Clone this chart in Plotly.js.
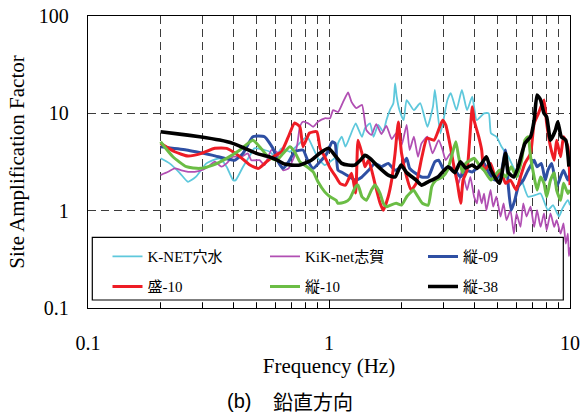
<!DOCTYPE html>
<html>
<head>
<meta charset="utf-8">
<script src="https://cdn.plot.ly/plotly-3.0.1.min.js"></script>
<style>
html,body{margin:0;padding:0;background:#fff;}
#chart{width:582px;height:416px;}
</style>
</head>
<body>
<div id="chart"></div>
<script>
// ---- data ----
const seriesNames = ['K-NET穴水', 'KiK-net志賀', '縦-09', '盛-10', '縦-10', '縦-38'];

const freqKnet = [0.2,0.218,0.24,0.26,0.28,0.31,0.352,0.376,0.4,0.41,0.44,0.47,0.49,0.54,0.568,0.6,0.635,0.688,0.74,0.81,0.86,0.9,0.96,1.01,1.07,1.09,1.13,1.17,1.22,1.29,1.32,1.37,1.41,1.48,1.53,1.6,1.68,1.73,1.79,1.85,1.88,1.91,1.96,2.04,2.1,2.25,2.39,2.56,2.7,2.75,2.9,3.1,3.2,3.38,3.56,3.74,3.93,4.1,4.4,4.6,4.7,4.95,5.2,5.55,5.9,6.3,6.7,7.2,7.55,8.1,8.5,9.0,9.3,9.8,10];
const ampKnet  = [3.45,3.06,2.45,1.98,2.22,3.06,3.45,2.83,2.06,2.06,2.83,3.7,4.37,4.2,4.03,3.58,4.37,4.03,4.7,5.75,4.37,3.45,2.94,3.18,3.58,4.91,5.75,4.54,5.75,7.89,7.02,5.75,7.02,7.89,5.75,7.6,6.47,8.5,10.8,12.7,20.3,14.8,10.8,8.5,13.7,10.8,12.7,7.28,11.7,17.4,6.23,13.7,16.1,10.8,17.4,10.8,14.8,8.5,10,10,6.23,5.75,4.54,3.58,2.6,2.06,1.39,1.45,1.5,1.01,1.14,0.87,1.05,1.28,1.14];

const freqKik = [0.2,0.215,0.229,0.244,0.26,0.277,0.296,0.315,0.336,0.358,0.376,0.4,0.433,0.46,0.476,0.515,0.54,0.577,0.606,0.625,0.645,0.68,0.72,0.74,0.757,0.78,0.82,0.86,0.9,0.96,1.01,1.04,1.09,1.14,1.2,1.24,1.3,1.37,1.43,1.5,1.57,1.65,1.73,1.82,1.91,2.0,2.1,2.16,2.25,2.34,2.42,2.56,2.69,2.85,2.96,3.05,3.19,3.33,3.45,3.56,3.74,3.86,4.0,4.11,4.18,4.3,4.4,4.5,4.68,4.8,4.95,5.15,5.3,5.45,5.66,5.85,6.0,6.23,6.4,6.6,6.86,7.1,7.3,7.55,7.8,8.0,8.3,8.6,8.8,9.14,9.4,9.6,9.8,9.9,10];
const ampKik  = [2.32,2.51,2.72,2.6,2.51,2.51,2.6,2.83,3.18,2.83,3.06,3.58,3.58,3.88,3.3,3.3,2.94,4.2,4.03,3.18,2.6,2.72,3.7,4.91,7.28,8.2,7.89,7.28,8.2,8.9,8.9,10.8,10.3,12.8,16.4,13.1,11.3,12.2,6.7,6.0,7.76,6.12,7.44,5.44,6.35,4.7,7.6,4.2,5.75,3.58,4.91,5.75,3.88,5.3,4.2,3.3,3.88,2.6,1.91,2.6,1.63,2.22,1.39,1.19,1.63,1.19,1.5,1.01,1.63,1.1,1.39,0.87,1.19,0.8,1.01,0.58,0.94,0.68,1.19,0.87,1.1,0.68,1.01,0.68,0.94,0.63,0.94,0.68,0.8,0.58,0.74,0.46,0.58,0.34,0.42];

const freqT09 = [0.2,0.256,0.33,0.406,0.44,0.483,0.54,0.585,0.615,0.645,0.68,0.72,0.78,0.82,0.86,0.918,0.98,1.03,1.06,1.09,1.14,1.22,1.29,1.37,1.46,1.55,1.65,1.76,1.88,2.0,2.1,2.16,2.27,2.42,2.58,2.75,2.85,3.0,3.12,3.33,3.51,3.69,3.93,4.18,4.4,4.6,4.9,5.2,5.4,5.55,5.7,5.9,6.1,6.4,6.7,7.1,7.3,7.6,7.9,8.1,8.4,8.8,9.14,9.4,9.8,10];
const ampT09  = [4.54,4.2,3.7,3.3,3.88,5.75,5.75,4.37,3.18,2.72,3.18,4.03,4.2,3.18,2.72,3.18,3.88,5.1,4.91,2.6,2.45,2.22,2.06,2.22,2.6,3.06,2.83,3.06,2.6,2.83,3.45,2.72,2.45,2.22,2.22,3.18,3.3,2.6,2.83,2.6,2.22,2.6,2.5,2.83,3.06,2.45,2.06,2.6,4.2,1.77,1.01,1.28,1.77,2.06,2.6,3.3,2.83,3.06,2.06,2.6,3.06,1.77,2.22,2.6,2.06,2.45];

const freqM10 = [0.2,0.229,0.26,0.296,0.336,0.376,0.42,0.47,0.51,0.55,0.6,0.635,0.675,0.72,0.757,0.78,0.83,0.89,0.918,0.96,1.01,1.07,1.11,1.17,1.24,1.29,1.32,1.37,1.41,1.46,1.55,1.63,1.68,1.76,1.82,1.88,1.94,2.0,2.1,2.19,2.3,2.43,2.55,2.73,2.96,3.05,3.19,3.3,3.41,3.52,3.6,3.74,3.93,4.0,4.18,4.3,4.4,4.68,4.9,5.15,5.4,5.66,5.98,6.23,6.5,6.86,7.1,7.4,7.8,8.0,8.3,8.6,8.8,9.14,9.4,9.8,10];
const ampM10  = [4.91,4.03,3.64,3.88,4.37,4.37,3.7,2.94,2.72,3.18,3.7,4.03,5.58,7.95,7.28,4.54,6.28,6.47,4.4,3.58,2.74,2.21,1.91,1.83,2.42,1.52,5.3,3.88,2.83,3.3,1.91,1.19,1.01,1.39,2.06,3.88,8.14,3.88,2.22,1.63,1.91,3.58,5.54,5.3,8.5,7.6,4.54,2.83,1.91,1.19,2.06,2.6,11.7,8.5,5.75,4.2,2.6,3.06,2.22,2.6,1.91,2.06,1.63,2.22,3.06,3.88,7.89,10,13.7,7.89,4.54,3.3,5.3,3.58,5.75,4.54,1.83];

const freqT10 = [0.2,0.225,0.256,0.291,0.33,0.376,0.427,0.483,0.515,0.56,0.606,0.645,0.688,0.72,0.757,0.81,0.86,0.9,0.96,1.01,1.07,1.09,1.17,1.22,1.29,1.32,1.37,1.43,1.5,1.55,1.63,1.68,1.73,1.8,1.9,2.0,2.1,2.16,2.24,2.34,2.44,2.58,2.67,2.78,2.96,3.1,3.25,3.36,3.45,3.58,3.69,3.86,4.0,4.25,4.4,4.7,5.1,5.4,5.7,6.0,6.3,6.5,6.7,6.86,7.1,7.3,7.55,7.8,8.0,8.3,8.6,8.8,9.14,9.4,9.8,10];
const ampT10  = [5.1,3.58,2.83,2.72,2.94,3.45,4.2,5.3,4.54,3.58,3.3,3.88,4.54,4.03,3.18,2.83,2.5,1.98,1.56,1.39,1.28,1.19,1.23,1.33,1.77,1.83,1.39,1.28,1.63,1.83,1.5,1.19,1.1,1.14,1.19,1.14,1.39,1.5,1.63,1.39,1.19,1.14,1.77,2.06,2.22,2.6,3.88,5.1,3.58,2.45,3.06,3.3,3.45,2.83,2.6,2.06,2.6,2.22,2.83,2.22,3.3,5.3,5.75,3.58,2.22,1.63,2.22,1.91,1.39,2.06,2.45,1.63,1.28,1.91,1.5,1.63];

const freqT38 = [0.2,0.24,0.291,0.352,0.399,0.447,0.5,0.568,0.61,0.655,0.7,0.757,0.844,0.918,0.995,1.07,1.13,1.2,1.28,1.35,1.41,1.48,1.6,1.76,1.88,1.99,2.1,2.3,2.42,2.58,2.83,3.12,3.33,3.51,3.69,3.93,4.11,4.3,4.5,4.7,5.1,5.4,5.55,5.85,6.1,6.5,6.86,7.1,7.3,7.55,7.8,8.0,8.3,8.7,8.9,9.2,9.6,9.9];
const ampT38  = [6.47,6.12,5.75,5.31,4.91,4.37,3.88,3.56,3.3,3.01,2.94,2.94,3.3,3.91,4.37,3.58,3.06,2.94,2.94,3.3,3.7,3.45,2.83,2.32,2.22,2.94,2.46,2.06,1.83,1.98,2.22,2.83,2.46,3.18,2.74,2.94,2.72,3.06,3.58,2.6,1.91,3.88,2.45,2.22,2.83,4.91,5.75,8.5,15.4,13.7,10,9.2,5.3,6.7,8.2,5.75,5.3,2.83];

const xTickVals = [0.1, 1, 10];
const xTickText = ['0.1', '1', '10'];
const xMinorVals = [0.2,0.3,0.4,0.5,0.6,0.7,0.8,0.9,2,3,4,5,6,7,8,9];
const yTickVals = [0.1, 1, 10, 100];
const yTickText = ['0.1', '1', '10', '100'];

// ---- styling ----
const colors = ['#5ec8dc', '#b14fb3', '#2e4fa3', '#ee1c25', '#6bbd45', '#000000'];
const widths = [1.8, 1.8, 3, 3, 3, 3.6];
const freqs = [freqKnet, freqKik, freqT09, freqM10, freqT10, freqT38];
const amps  = [ampKnet, ampKik, ampT09, ampM10, ampT10, ampT38];
const legendIds = ['legend', 'legend2', 'legend3', 'legend4', 'legend5', 'legend6'];

const serif = 'Liberation Serif, Times New Roman, Noto Sans CJK JP, serif';

const traces = seriesNames.map((name, i) => ({
  type: 'scatter', mode: 'lines', name: name,
  x: freqs[i], y: amps[i],
  line: {color: colors[i], width: widths[i], shape: 'spline', smoothing: 0.5},
  legend: legendIds[i], showlegend: true, hoverinfo: 'skip'
}));

const gridDash = '8px,5px';
const L = 88, R = 12, T = 16, B = 108;
const W = 582, H = 416;
const pw = W - L - R, ph = H - T - B;
function px2x(p) { return (p - L) / pw; }
function py2y(p) { return (H - B - p) / ph; }

const legendBase = {
  bgcolor: 'rgba(0,0,0,0)', borderwidth: 0, xanchor: 'left', yanchor: 'middle',
  font: {family: serif, size: 15, color: '#000'}, itemwidth: 30
};
const legPos = [[147.5, 256.7], [305, 256.7], [463, 256.7], [147.5, 286.7], [305, 286.7], [463, 286.7]];

const layout = {
  width: W, height: H,
  margin: {l: L, r: R, t: T, b: B},
  paper_bgcolor: '#fff', plot_bgcolor: '#fff',
  showlegend: true,
  xaxis: {
    type: 'log', range: [-1, 1], autorange: false,
    tickmode: 'array', tickvals: xTickVals, ticktext: xTickText,
    ticks: 'inside', ticklen: 8, tickcolor: '#000', tickwidth: 1,
    showline: true, mirror: true, linecolor: '#000', linewidth: 1.3,
    showgrid: true, gridcolor: '#3c3c3c', griddash: gridDash, gridwidth: 1,
    zeroline: false,
    tickfont: {family: serif, size: 20, color: '#000'},
    ticklabelstandoff: 17,
    minor: {tickmode: 'array', tickvals: xMinorVals, ticks: 'inside', ticklen: 5, tickcolor: '#000',
            showgrid: true, gridcolor: '#3c3c3c', griddash: gridDash, gridwidth: 1},
    title: {text: 'Frequency (Hz)', font: {family: serif, size: 21, color: '#000'}, standoff: 0},
    automargin: false
  },
  yaxis: {
    type: 'log', range: [-1, 2], autorange: false,
    tickmode: 'array', tickvals: yTickVals, ticktext: yTickText,
    ticks: '', showline: true, mirror: true, linecolor: '#000', linewidth: 1.3,
    showgrid: true, gridcolor: '#3c3c3c', griddash: gridDash, gridwidth: 1,
    zeroline: false,
    tickfont: {family: serif, size: 20, color: '#000'},
    ticklabelstandoff: 14,
    title: {text: 'Site Amplification Factor', font: {family: serif, size: 21, color: '#000'}, standoff: 8},
    automargin: false
  },
  shapes: [{
    type: 'rect', xref: 'paper', yref: 'paper', layer: 'above',
    x0: px2x(92.3), x1: px2x(563.3), y0: py2y(300), y1: py2y(237.3),
    fillcolor: '#fff', line: {color: '#000', width: 1.2}
  }],
  annotations: [{
    xref: 'paper', yref: 'paper', x: px2x(239), y: py2y(401), xanchor: 'center', yanchor: 'middle',
    showarrow: false, text: '(b)',
    font: {family: 'Liberation Sans, Arial, sans-serif', size: 20, color: '#000'}
  }, {
    xref: 'paper', yref: 'paper', x: px2x(271), y: py2y(401), xanchor: 'left', yanchor: 'middle',
    showarrow: false, text: '鉛直方向',
    font: {family: 'Noto Sans CJK JP, sans-serif', size: 20, color: '#000'}
  }]
};
legendIds.forEach((id, i) => {
  layout[id] = Object.assign({}, legendBase, {x: px2x(legPos[i][0] - 40), y: py2y(legPos[i][1])});
});

Plotly.newPlot('chart', traces, layout, {displayModeBar: false, staticPlot: true});
</script>
</body>
</html>
